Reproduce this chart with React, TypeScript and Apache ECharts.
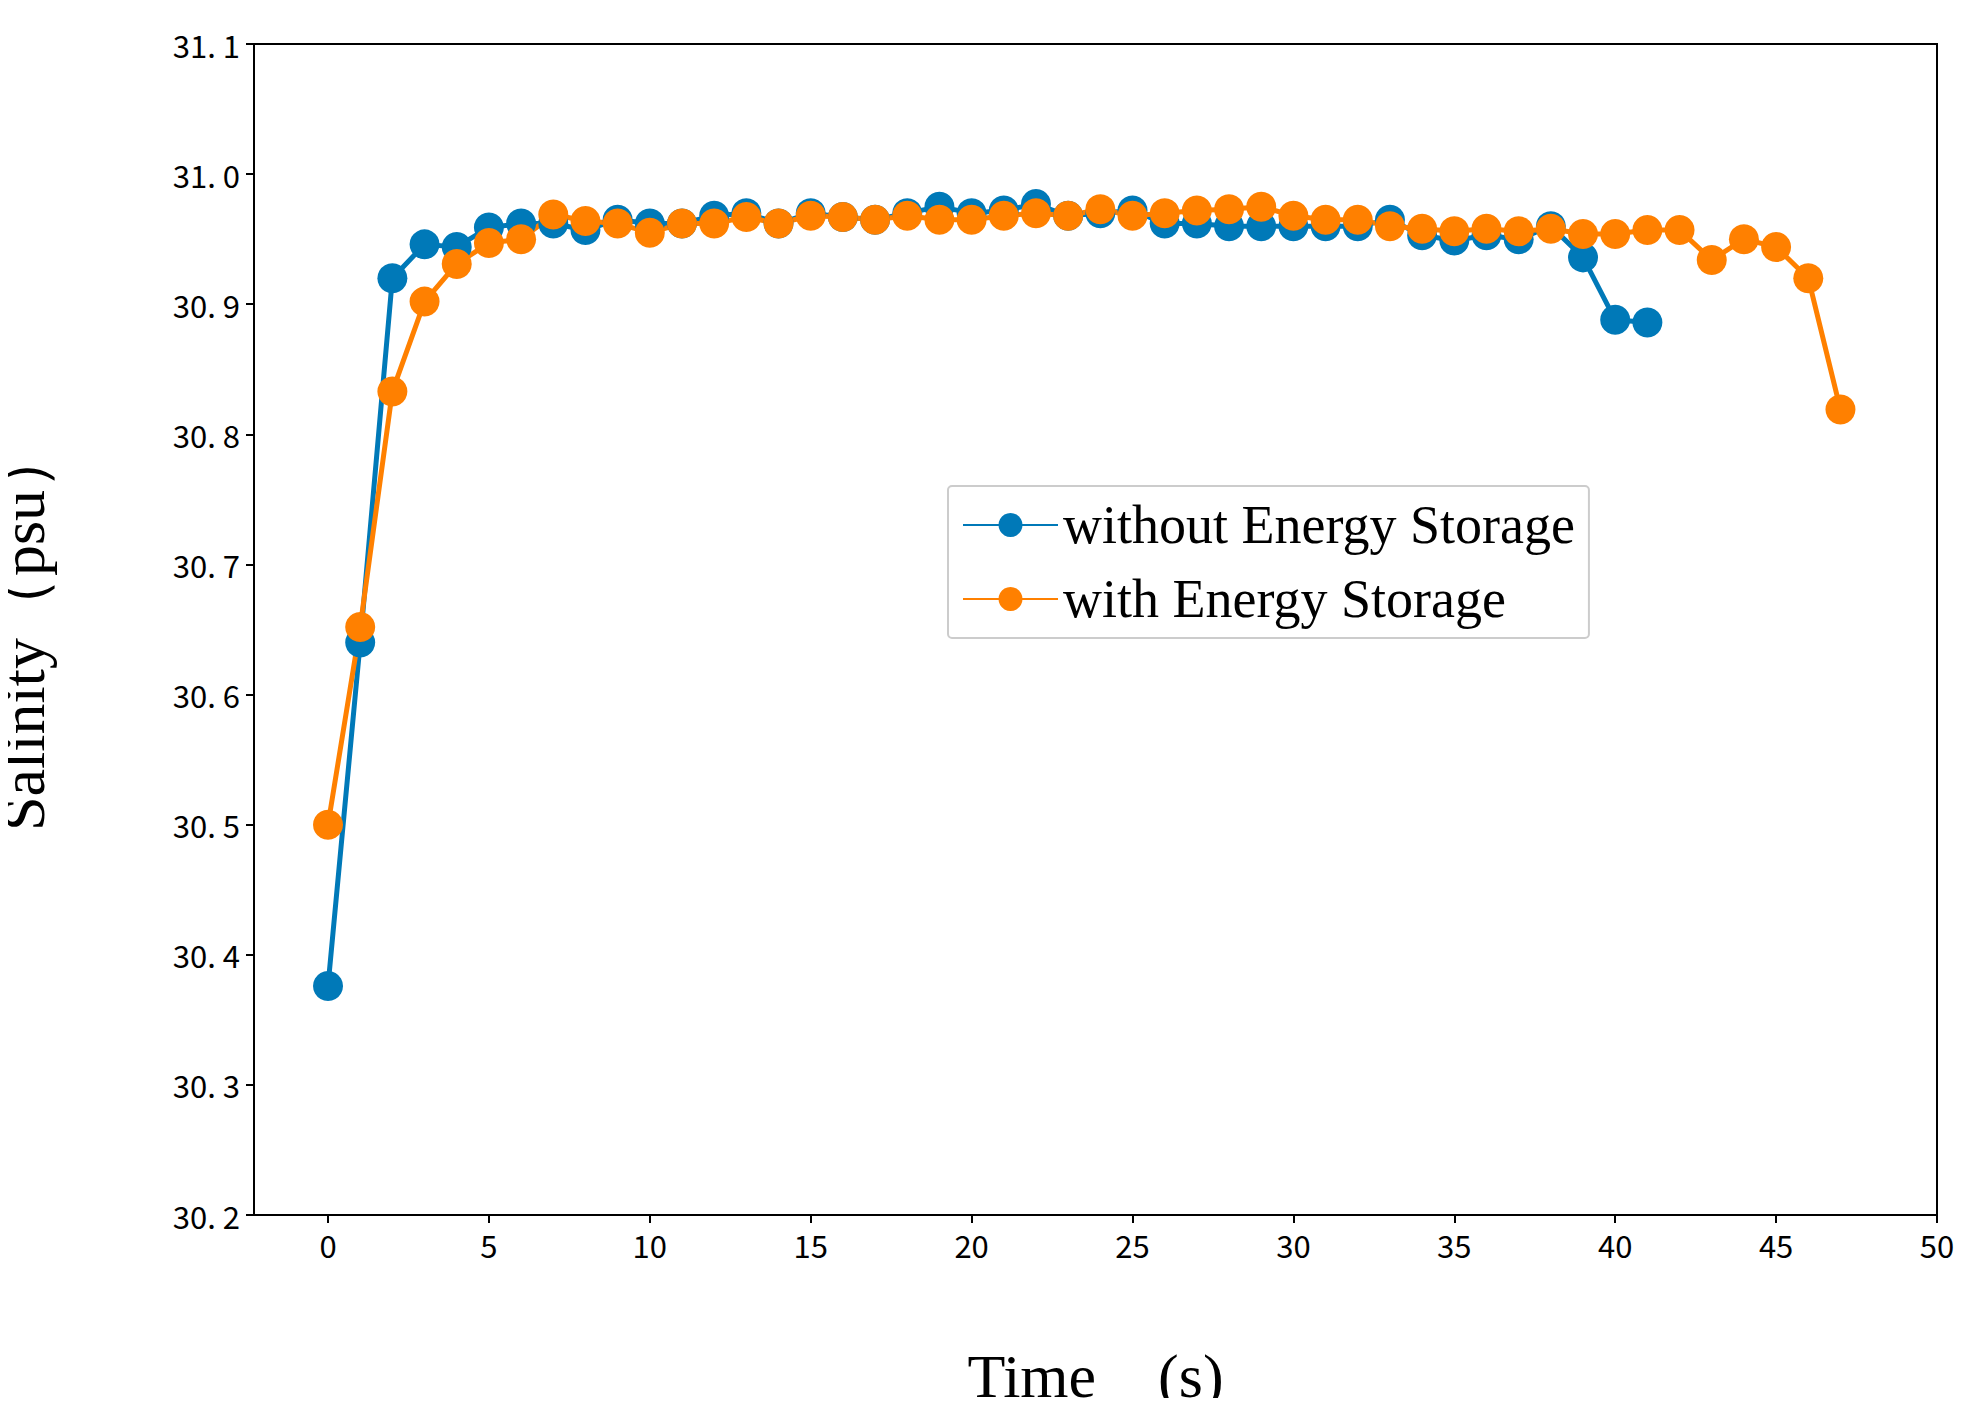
import React, { useEffect, useRef } from "react";
import * as echarts from "echarts";

const xTicks = [0, 5, 10, 15, 20, 25, 30, 35, 40, 45, 50];
const blueVals = [30.376, 30.64, 30.92, 30.946, 30.944, 30.959, 30.962, 30.962, 30.957, 30.965, 30.962, 30.962, 30.968, 30.97, 30.962, 30.97, 30.967, 30.965, 30.97, 30.975, 30.97, 30.972, 30.977, 30.968, 30.97, 30.972, 30.962, 30.962, 30.96, 30.96, 30.96, 30.96, 30.96, 30.965, 30.953, 30.949, 30.953, 30.95, 30.96, 30.936, 30.888, 30.886];
const orangeVals = [30.5, 30.652, 30.833, 30.902, 30.931, 30.947, 30.95, 30.969, 30.964, 30.962, 30.955, 30.962, 30.962, 30.967, 30.962, 30.968, 30.967, 30.965, 30.968, 30.965, 30.965, 30.968, 30.97, 30.968, 30.973, 30.968, 30.97, 30.972, 30.973, 30.975, 30.968, 30.965, 30.965, 30.96, 30.958, 30.956, 30.958, 30.956, 30.958, 30.954, 30.954, 30.957, 30.957, 30.934, 30.95, 30.944, 30.92, 30.819];

export default function App() {
  const ref = useRef<HTMLDivElement>(null);
  useEffect(() => {
    const chart = echarts.init(ref.current!, null, { renderer: "svg" });
    const tickFont = { fontFamily: "Noto Sans CJK SC", fontSize: 31, color: "#000" };
    chart.setOption({
      animation: false,
      backgroundColor: "#fff",
      grid: { left: 246, right: 18, top: 36, bottom: 183, outerBoundsMode: "none", containLabel: false, show: true, borderColor: "#000", borderWidth: 2, backgroundColor: "transparent" },
      legend: {
        left: 940, top: 478, orient: "vertical",
        itemWidth: 95, itemHeight: 30, itemGap: 20,
        padding: [12, 14, 12, 14],
        borderColor: "#ccc", borderWidth: 2, borderRadius: 4,
        textStyle: { fontFamily: "Liberation Serif", fontSize: 54, color: "#000" },
        data: ["without Energy Storage", "with Energy Storage"],
      },
      xAxis: {
        type: "value", min: -2.3, max: 50,
        name: "Time\u3000(s)", nameLocation: "middle", nameGap: 130,
        nameTextStyle: { fontFamily: "Liberation Serif", fontSize: 62, color: "#000" },
        axisLine: { onZero: false, lineStyle: { color: "#000", width: 2 } },
        axisTick: { customValues: xTicks, length: 8, lineStyle: { color: "#000", width: 2 } },
        axisLabel: { customValues: xTicks, margin: 14, ...tickFont },
        splitLine: { show: false },
      },
      yAxis: {
        type: "value", min: 30.2, max: 31.1, interval: 0.1,
        name: "Salinity（psu）", nameLocation: "middle", nameGap: 200,
        nameTextStyle: { fontFamily: "Liberation Serif", fontSize: 62, color: "#000" },
        axisLine: { onZero: false, lineStyle: { color: "#000", width: 2 } },
        axisTick: { show: true, length: 8, lineStyle: { color: "#000", width: 2 } },
        axisLabel: { margin: 14, formatter: (v: number) => v.toFixed(1).replace(".", ". "), ...tickFont },
        splitLine: { show: false },
      },
      series: [
        {
          name: "without Energy Storage", type: "line", symbol: "circle", symbolSize: 30,
          data: blueVals.map((v, i) => [i, v]),
          itemStyle: { color: "#0079B8" }, lineStyle: { color: "#0079B8", width: 5 },
        },
        {
          name: "with Energy Storage", type: "line", symbol: "circle", symbolSize: 30,
          data: orangeVals.map((v, i) => [i, v]),
          itemStyle: { color: "#FF8000" }, lineStyle: { color: "#FF8000", width: 5 },
        },
      ],
    });
    return () => chart.dispose();
  }, []);
  return <div ref={ref} style={{ width: 1947, height: 1390 }} />;
}
